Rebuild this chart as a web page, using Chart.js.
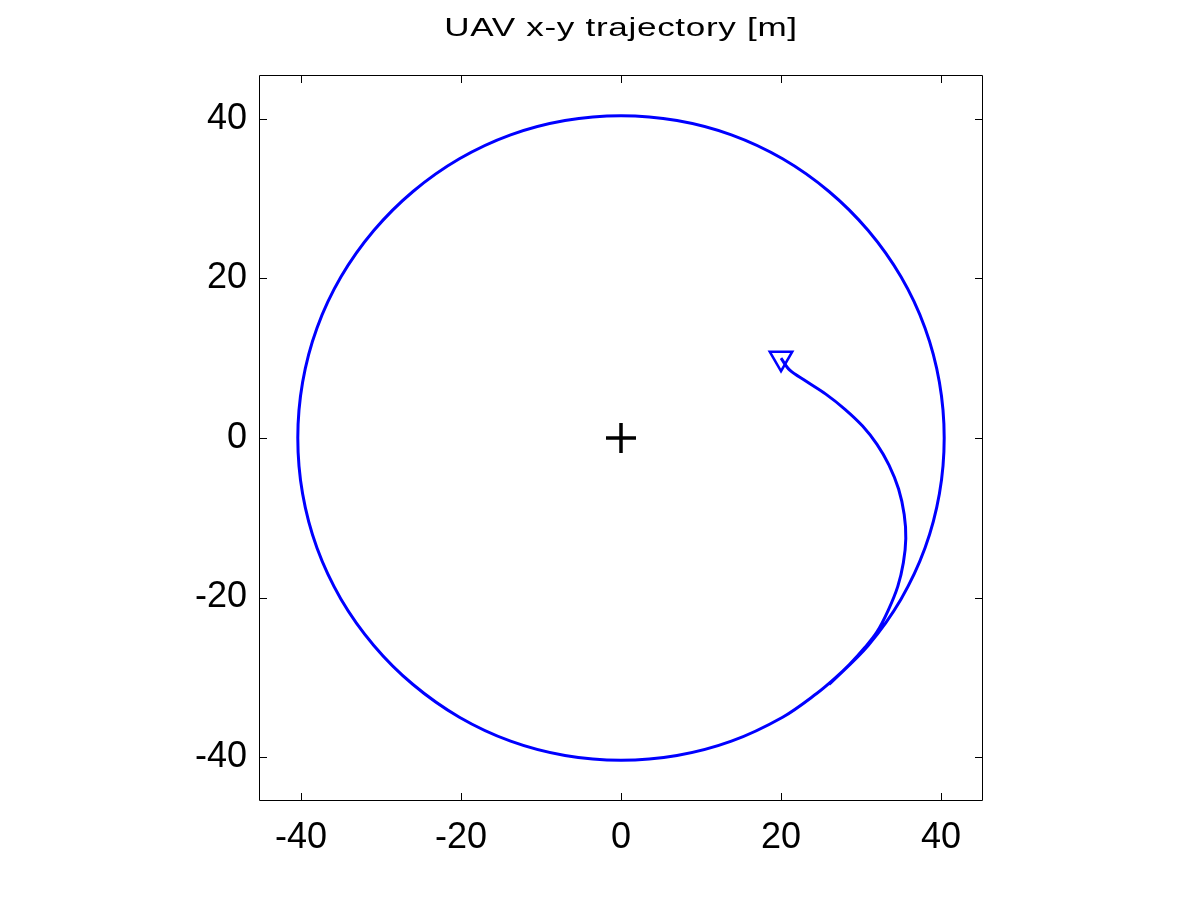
<!DOCTYPE html>
<html>
<head>
<meta charset="utf-8">
<script src="https://cdn.jsdelivr.net/npm/chart.js@4/dist/chart.umd.min.js"></script>
<style>
  html, body { margin: 0; padding: 0; background: #fff; }
  #wrap { width: 1200px; height: 900px; }
</style>
</head>
<body>
<div id="wrap"><canvas id="trajChart" width="1200" height="900"></canvas></div>
<script>
// UAV path [m]
const trajX = [20, 21.1, 23.0, 25.6, 28.0, 30.2, 32.0, 33.5, 34.7, 35.4, 35.6, 35.3, 34.6, 33.4, 32.0, 30.45, 28.55, 26.65, 24.5,
  20.2, 13.8, 7.0, 0, -7.0, -13.8, -20.2, -26.0, -30.9, -35.0, -38.0, -39.8, -40.4, -39.8, -38.0, -35.0,
  -30.9, -26.0, -20.2, -13.8, -7.0, 0, 7.0, 13.8, 20.2, 26.0, 30.9, 35.0, 38.0, 39.8, 40.4, 39.8, 38.0,
  35.0, 30.9, 26.0];
const trajY = [10, 8.5, 7.2, 5.5, 3.6, 1.5, -0.8, -3.4, -6.4, -9.6, -12.6, -15.6, -18.6, -21.6, -24.3, -26.3, -28.4, -30.2, -32.0,
  -35.0, -38.0, -39.8, -40.4, -39.8, -38.0, -35.0, -30.9, -26.0, -20.2, -13.8, -7.0, 0, 7.0, 13.8, 20.2,
  26.0, 30.9, 35.0, 38.0, 39.8, 40.4, 39.8, 38.0, 35.0, 30.9, 26.0, 20.2, 13.8, 7.0, 0, -7.0, -13.8,
  -20.2, -26.0, -30.9];

// start marker and circle centre
const startX = [20], startY = [10];
const centerX = [0], centerY = [0];

const tickValues = [-40, -20, 0, 20, 40];

const toPoints = (xs, ys) => xs.map((x, i) => ({ x: x, y: ys[i] }));

// box + inward ticks on all four sides, plus the title
const frame = {
  id: 'frame',
  afterDraw(chart) {
    const ctx = chart.ctx, a = chart.chartArea;
    const sx = chart.scales.x, sy = chart.scales.y;
    ctx.save();
    ctx.strokeStyle = '#000';
    ctx.lineWidth = 1;
    ctx.beginPath();
    ctx.rect(Math.round(a.left) + 0.5, Math.round(a.top) + 0.5, Math.round(a.right - a.left) - 1, Math.round(a.bottom - a.top) - 1);
    const len = 8;
    tickValues.forEach(v => {
      const px = Math.round(sx.getPixelForValue(v)) + 0.5;
      ctx.moveTo(px, a.bottom); ctx.lineTo(px, a.bottom - len);
      ctx.moveTo(px, a.top); ctx.lineTo(px, a.top + len);
      const py = Math.round(sy.getPixelForValue(v)) + 0.5;
      ctx.moveTo(a.left, py); ctx.lineTo(a.left + len, py);
      ctx.moveTo(a.right, py); ctx.lineTo(a.right - len, py);
    });
    ctx.stroke();

    ctx.fillStyle = '#000';
    ctx.font = '26px "Liberation Sans", Arial, sans-serif';
    ctx.textAlign = 'center';
    ctx.textBaseline = 'alphabetic';
    ctx.translate((a.left + a.right) / 2, 36);
    ctx.scale(1.35, 1);
    ctx.letterSpacing = '0.5px';
    ctx.fillText('UAV x-y trajectory [m]', 0, 0);
    ctx.restore();
  }
};

new Chart(document.getElementById('trajChart'), {
  type: 'line',
  data: {
    datasets: [{
      label: 'trajectory',
      data: toPoints(trajX, trajY),
      borderColor: '#0000ff',
      borderWidth: 3,
      pointRadius: 0,
      tension: 0.33,
      fill: false
    }, {
      label: 'start',
      data: toPoints(startX, startY),
      showLine: false,
      pointStyle: 'triangle',
      rotation: 180,
      pointRadius: 13,
      borderColor: '#0000ff',
      backgroundColor: 'rgba(0,0,0,0)',
      borderWidth: 2.5
    }, {
      label: 'centre',
      data: toPoints(centerX, centerY),
      showLine: false,
      pointStyle: 'cross',
      pointRadius: 15,
      borderColor: '#000',
      borderWidth: 3.5
    }]
  },
  options: {
    responsive: false,
    animation: false,
    elements: { line: { capBezierPoints: false } },
    layout: { padding: { top: 75, right: 217, left: 0, bottom: 0 } },
    plugins: { legend: { display: false }, tooltip: { enabled: false } },
    scales: {
      x: {
        type: 'linear',
        position: 'bottom',
        min: -45.25,
        max: 45.25,
        grid: { display: false },
        border: { display: false },
        afterBuildTicks: s => { s.ticks = tickValues.map(v => ({ value: v })); },
        afterFit: s => { s.height = 99; },
        ticks: {
          padding: 7,
          color: '#000',
          font: { family: '"Liberation Sans", Arial, sans-serif', size: 36 }
        }
      },
      y: {
        type: 'linear',
        position: 'left',
        min: -45.5,
        max: 45.5,
        grid: { display: false },
        border: { display: false },
        afterBuildTicks: s => { s.ticks = tickValues.map(v => ({ value: v })); },
        afterFit: s => { s.width = 259; },
        ticks: {
          padding: 4,
          color: '#000',
          font: { family: '"Liberation Sans", Arial, sans-serif', size: 36 }
        }
      }
    }
  },
  plugins: [frame]
});
</script>
</body>
</html>
